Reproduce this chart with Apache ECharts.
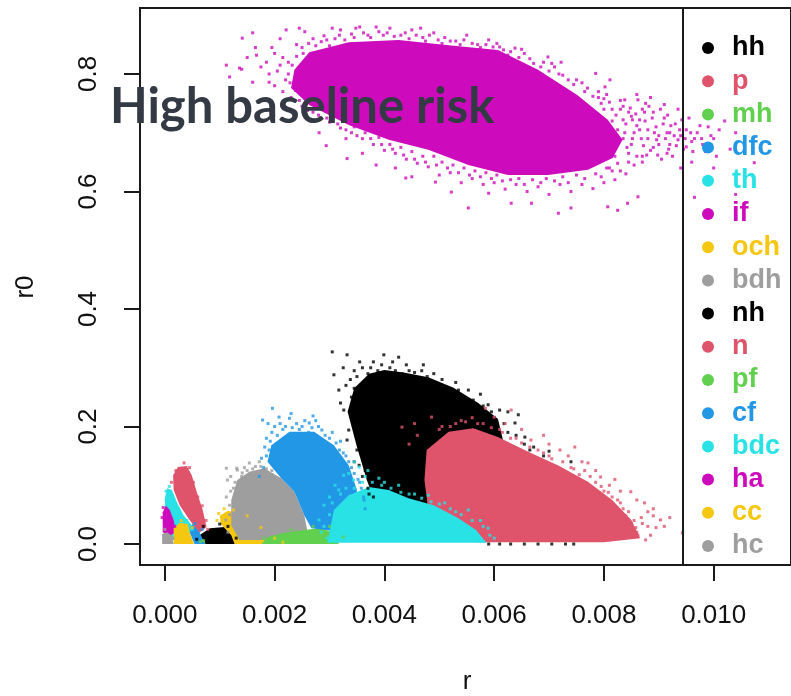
<!DOCTYPE html>
<html>
<head>
<meta charset="utf-8">
<script src="https://cdn.jsdelivr.net/npm/echarts@6/dist/echarts.min.js"></script>
<style>
html,body{margin:0;padding:0;background:#fff}
#chart{width:791px;height:696px}
</style>
</head>
<body>
<div id="chart"></div>
<script>
// groups in plotting order (later groups are drawn on top)
const groupNames = ['hh','p','mh','dfc','th','if','och','bdh','nh','n','pf','cf','bdc','ha','cc','hc'];
const groupColors = ['#000000','#DF536B','#61D04F','#2297E6','#28E2E5','#CD0BBC','#F5C710','#9E9E9E',
                     '#000000','#DF536B','#61D04F','#2297E6','#28E2E5','#CD0BBC','#F5C710','#9E9E9E'];
const xTicks = [0, 0.002, 0.004, 0.006, 0.008, 0.010];
const yTicks = [0, 0.2, 0.4, 0.6, 0.8];

// dense core of each cloud, as an outline of (r, r0) values
const hhCore  = [[0.00060,0.000],[0.00063,0.015],[0.00082,0.027],[0.00109,0.029],[0.00127,0.020],[0.00132,0.000]];
const pCore   = [[0.00015,0.117],[0.00024,0.131],[0.00040,0.133],[0.00049,0.117],[0.00058,0.089],[0.00069,0.058],
                 [0.00076,0.029],[0.00063,0.019],[0.00045,0.041],[0.00027,0.066],[0.00016,0.092]];
const mhCore  = [[0.00062,0.000],[0.00064,0.006],[0.00072,0.007],[0.00074,0.000]];
const dfcCore = [[0.00042,0.027],[0.00051,0.034],[0.00063,0.020],[0.00073,0.000],[0.00054,0.000]];
const thCore  = [[0.00000,0.078],[0.00004,0.095],[0.00013,0.092],[0.00022,0.071],[0.00034,0.049],[0.00049,0.032],
                 [0.00045,0.015],[0.00018,0.007],[0.00000,0.007]];
const ifCore  = [[0.00236,0.807],[0.00263,0.837],[0.00335,0.854],[0.00426,0.858],[0.00517,0.849],[0.00607,0.841],
                 [0.00680,0.807],[0.00752,0.764],[0.00807,0.722],[0.00834,0.688],[0.00816,0.657],[0.00771,0.637],
                 [0.00698,0.628],[0.00625,0.628],[0.00553,0.645],[0.00480,0.671],[0.00408,0.688],[0.00335,0.713],
                 [0.00263,0.747],[0.00230,0.776]];
const ochCore = [[0.00127,0.000],[0.00121,0.015],[0.00102,0.034],[0.00100,0.048],[0.00114,0.056],[0.00140,0.054],
                 [0.00163,0.037],[0.00190,0.012],[0.00208,0.000]];
const bdhCore = [[0.00121,0.075],[0.00132,0.109],[0.00154,0.123],[0.00181,0.129],[0.00212,0.112],[0.00236,0.089],
                 [0.00254,0.049],[0.00263,0.007],[0.00136,0.007],[0.00121,0.032]];
const nhCore  = [[0.00333,0.225],[0.00345,0.265],[0.00372,0.290],[0.00400,0.296],[0.00435,0.292],[0.00480,0.284],
                 [0.00526,0.266],[0.00571,0.240],[0.00607,0.213],[0.00616,0.177],[0.00571,0.126],[0.00499,0.075],
                 [0.00426,0.049],[0.00385,0.066],[0.00368,0.109],[0.00350,0.165]];
const nCore   = [[0.00477,0.160],[0.00517,0.191],[0.00562,0.197],[0.00607,0.182],[0.00662,0.157],[0.00716,0.134],
                 [0.00771,0.106],[0.00815,0.075],[0.00850,0.041],[0.00866,0.010],[0.00800,0.003],[0.00571,0.003],
                 [0.00499,0.007],[0.00480,0.058],[0.00473,0.109]];
const pfCore  = [[0.00176,0.000],[0.00187,0.012],[0.00218,0.019],[0.00254,0.024],[0.00281,0.027],[0.00308,0.020],[0.00317,0.000]];
const cfCore  = [[0.00187,0.140],[0.00194,0.168],[0.00227,0.191],[0.00272,0.191],[0.00308,0.168],[0.00335,0.134],
                 [0.00350,0.092],[0.00344,0.041],[0.00326,0.020],[0.00267,0.027],[0.00254,0.049],[0.00236,0.089],
                 [0.00212,0.112]];
const bdcCore = [[0.00296,0.002],[0.00308,0.058],[0.00335,0.083],[0.00372,0.097],[0.00408,0.092],[0.00444,0.078],
                 [0.00490,0.066],[0.00535,0.044],[0.00567,0.024],[0.00586,0.002]];
const haCore  = [[-0.00004,0.054],[0.00002,0.065],[0.00009,0.058],[0.00016,0.041],[0.00020,0.020],[0.00009,0.014],[-0.00004,0.020]];
const ccCore  = [[0.00016,0.000],[0.00016,0.027],[0.00027,0.036],[0.00042,0.034],[0.00045,0.020],[0.00053,0.000]];
const hcCore  = [[-0.00005,0.000],[-0.00005,0.017],[0.00004,0.020],[0.00013,0.014],[0.00016,0.000]];

// scattered draws around the cores
const hhPoints  = [[0.00070,0.030],[0.00100,0.034],[0.00115,0.030],[0.00130,0.010],[0.00058,0.008]];
const pPoints   = [[0.00012,0.105],[0.00020,0.125],[0.00035,0.138],[0.00045,0.130],[0.00052,0.105],[0.00060,0.080],
                   [0.00068,0.065],[0.00075,0.040],[0.00078,0.025]];
const mhPoints  = [[0.00065,0.004],[0.00070,0.006]];
const dfcPoints = [[0.00055,0.035],[0.00068,0.025]];
const thPoints  = [[0.00002,0.090],[0.00008,0.098],[0.00025,0.060],[0.00040,0.040],[0.00050,0.025]];
const ifPoints  = [
  [0.00112,0.815],[0.00118,0.795],[0.00136,0.810],[0.00141,0.861],[0.00140,0.808],[0.00150,0.828],[0.00160,0.870],
  [0.00160,0.786],[0.00167,0.832],[0.00175,0.812],[0.00165,0.845],[0.00190,0.786],[0.00190,0.800],[0.00200,0.835],
  [0.00210,0.860],[0.00215,0.770],[0.00221,0.875],[0.00225,0.820],[0.00220,0.790],[0.00205,0.805],[0.00230,0.760],
  [0.00240,0.850],[0.00245,0.878],[0.00245,0.755],[0.00255,0.872],[0.00260,0.738],[0.00270,0.860],[0.00280,0.730],
  [0.00281,0.700],[0.00290,0.865],[0.00294,0.678],[0.00300,0.848],[0.00300,0.718],[0.00305,0.878],[0.00320,0.875],
  [0.00320,0.708],[0.00330,0.690],[0.00332,0.656],[0.00340,0.868],[0.00340,0.700],[0.00348,0.878],[0.00355,0.880],
  [0.00360,0.690],[0.00360,0.665],[0.00370,0.866],[0.00380,0.680],[0.00385,0.880],[0.00385,0.645],[0.00390,0.872],
  [0.00400,0.670],[0.00410,0.878],[0.00420,0.665],[0.00420,0.640],[0.00430,0.866],[0.00439,0.623],[0.00440,0.655],
  [0.00450,0.875],[0.00450,0.625],[0.00460,0.648],[0.00466,0.878],[0.00470,0.862],[0.00480,0.642],[0.00490,0.870],
  [0.00493,0.616],[0.00500,0.628],[0.00510,0.862],[0.00520,0.632],[0.00522,0.599],[0.00530,0.856],[0.00540,0.615],
  [0.00550,0.866],[0.00553,0.572],[0.00560,0.622],[0.00570,0.850],[0.00580,0.612],[0.00590,0.858],[0.00590,0.597],
  [0.00600,0.615],[0.00610,0.846],[0.00617,0.841],[0.00620,0.604],[0.00630,0.838],[0.00631,0.580],[0.00638,0.844],
  [0.00640,0.612],[0.00650,0.842],[0.00660,0.600],[0.00665,0.826],[0.00668,0.580],[0.00680,0.608],[0.00690,0.820],
  [0.00698,0.829],[0.00700,0.595],[0.00710,0.812],[0.00717,0.563],[0.00720,0.612],[0.00722,0.820],[0.00725,0.798],
  [0.00740,0.600],[0.00740,0.572],[0.00750,0.790],[0.00760,0.612],[0.00770,0.776],[0.00780,0.605],[0.00785,0.801],
  [0.00790,0.770],[0.00800,0.615],[0.00802,0.778],[0.00807,0.574],[0.00810,0.752],[0.00811,0.790],[0.00820,0.620],
  [0.00825,0.568],[0.00830,0.740],[0.00838,0.756],[0.00840,0.630],[0.00843,0.580],[0.00850,0.728],[0.00855,0.645],
  [0.00860,0.712],[0.00862,0.756],[0.00862,0.591],[0.00870,0.660],[0.00874,0.735],[0.00880,0.705],[0.00890,0.675],
  [0.00900,0.695],[0.00915,0.665],[0.00916,0.730],[0.00920,0.700],[0.00935,0.688],[0.00940,0.640],[0.00950,0.676],
  [0.00960,0.650],[0.00965,0.690],[0.00985,0.668],[0.01005,0.660],[0.01030,0.672],
  [0.00830,0.755],[0.00845,0.735],[0.00840,0.715],[0.00855,0.700],[0.00850,0.680],[0.00860,0.660],[0.00845,0.650],
  [0.00870,0.740],[0.00875,0.720],[0.00880,0.690],[0.00885,0.670],[0.00870,0.650],[0.00890,0.735],[0.00895,0.710],
  [0.00900,0.680],[0.00905,0.655],[0.00910,0.725],[0.00915,0.700],[0.00920,0.680],[0.00925,0.660],[0.00930,0.715],
  [0.00940,0.695],[0.00945,0.672],[0.00950,0.705],[0.00960,0.685],[0.00970,0.700],[0.00980,0.680],[0.00990,0.710],
  [0.01000,0.690],[0.01020,0.720],[0.01040,0.700],[0.00955,0.725],[0.00935,0.740],[0.00910,0.748],[0.00885,0.760],
  [0.00860,0.765],[0.00830,0.635],[0.00810,0.640],[0.00820,0.660],[0.00835,0.690],[0.00825,0.705],[0.00815,0.720],
  [0.00800,0.740],[0.00790,0.760],[0.00805,0.765],[0.01074,0.649],[0.01040,0.595],[0.00965,0.590],[0.01000,0.640],
  [0.00250,0.845],[0.00262,0.852],[0.00275,0.848],[0.00285,0.855],[0.00295,0.858],[0.00310,0.860],[0.00318,0.866],
  [0.00328,0.858],[0.00345,0.862],[0.00362,0.870],[0.00375,0.862],[0.00398,0.866],[0.00405,0.870],[0.00418,0.864],
  [0.00438,0.870],[0.00445,0.860],[0.00458,0.866],[0.00475,0.856],[0.00482,0.866],[0.00498,0.858],[0.00505,0.852],
  [0.00520,0.856],[0.00538,0.850],[0.00545,0.858],[0.00560,0.852],[0.00575,0.845],[0.00585,0.850],[0.00598,0.846],
  [0.00605,0.852],[0.00625,0.832],[0.00645,0.828],[0.00655,0.835],[0.00672,0.818],[0.00685,0.812],[0.00700,0.805],
  [0.00705,0.818],[0.00718,0.800],[0.00735,0.790],[0.00745,0.782],[0.00760,0.785],[0.00765,0.770],[0.00780,0.762],
  [0.00795,0.750],[0.00800,0.758],[0.00815,0.740],[0.00822,0.730],[0.00835,0.722],
  [0.00250,0.745],[0.00270,0.735],[0.00285,0.740],[0.00295,0.725],[0.00310,0.728],[0.00315,0.715],[0.00330,0.705],
  [0.00345,0.710],[0.00350,0.695],[0.00365,0.700],[0.00375,0.690],[0.00390,0.692],[0.00395,0.680],[0.00410,0.680],
  [0.00415,0.672],[0.00430,0.675],[0.00435,0.662],[0.00450,0.668],[0.00455,0.655],[0.00470,0.660],[0.00475,0.650],
  [0.00490,0.660],[0.00495,0.645],[0.00505,0.650],[0.00515,0.640],[0.00525,0.645],[0.00535,0.632],[0.00545,0.640],
  [0.00555,0.628],[0.00565,0.635],[0.00575,0.625],[0.00585,0.632],[0.00595,0.622],[0.00605,0.628],[0.00615,0.618],
  [0.00630,0.620],[0.00645,0.622],[0.00655,0.612],[0.00670,0.620],[0.00685,0.615],[0.00695,0.622],[0.00710,0.618],
  [0.00725,0.625],[0.00735,0.615],[0.00750,0.628],[0.00765,0.622],[0.00785,0.630],[0.00795,0.625],[0.00805,0.640],
  [0.00815,0.635],[0.00825,0.648],
  [0.00835,0.745],[0.00848,0.742],[0.00852,0.722],[0.00858,0.732],[0.00865,0.705],[0.00868,0.690],[0.00872,0.678],
  [0.00878,0.662],[0.00882,0.745],[0.00888,0.725],[0.00892,0.700],[0.00896,0.688],[0.00898,0.662],[0.00903,0.740],
  [0.00908,0.715],[0.00912,0.690],[0.00918,0.672],[0.00922,0.712],[0.00928,0.695],[0.00932,0.678],[0.00938,0.705],
  [0.00942,0.722],[0.00948,0.690],[0.00958,0.700],[0.00962,0.668],[0.00975,0.712],[0.00978,0.690],[0.00995,0.695],
  [0.01010,0.705],[0.00845,0.665],[0.00852,0.690],[0.00838,0.700],[0.00842,0.675],[0.00865,0.722],[0.00876,0.750],
  [0.00225,0.800],[0.00228,0.785],[0.00232,0.815],[0.00238,0.772],[0.00240,0.830],[0.00210,0.815],[0.00215,0.828],
  [0.00200,0.780],[0.00185,0.820],[0.00195,0.845],[0.00248,0.765],[0.00252,0.835]
];
const ochPoints = [[0.00098,0.052],[0.00108,0.060],[0.00125,0.058],[0.00150,0.048],[0.00175,0.028],[0.00200,0.010],
                   [0.00215,0.003],[0.00095,0.040]];
const bdhPoints = [[0.00112,0.080],[0.00131,0.129],[0.00154,0.138],[0.00172,0.140],[0.00141,0.121],[0.00114,0.109],
                   [0.00111,0.041],[0.00112,0.129],[0.00132,0.126],[0.00118,0.066],[0.00125,0.095],[0.00165,0.132],
                   [0.00195,0.125],[0.00120,0.115],[0.00145,0.130],
                   [0.00120,0.090],[0.00128,0.105],[0.00140,0.115],[0.00150,0.125],[0.00160,0.128],[0.00175,0.132],
                   [0.00185,0.128],[0.00195,0.118],[0.00118,0.050],[0.00115,0.020]];
const nhPoints  = [[0.00305,0.327],[0.00332,0.322],[0.00399,0.322],[0.00426,0.318],[0.00380,0.310],[0.00360,0.300],
                   [0.00345,0.295],[0.00410,0.300],[0.00440,0.305],[0.00471,0.305],[0.00455,0.292],[0.00490,0.290],
                   [0.00505,0.280],[0.00530,0.275],[0.00553,0.262],[0.00545,0.250],[0.00575,0.255],[0.00589,0.237],
                   [0.00610,0.228],[0.00625,0.225],[0.00644,0.220],[0.00638,0.206],[0.00656,0.182],[0.00672,0.165],
                   [0.00700,0.158],[0.00740,0.140],[0.00308,0.288],[0.00317,0.262],[0.00326,0.228],[0.00335,0.194],
                   [0.00332,0.177],[0.00345,0.140],[0.00354,0.134],[0.00360,0.115],[0.00370,0.095],[0.00320,0.240],
                   [0.00330,0.270],[0.00340,0.250],
                   [0.00350,0.285],[0.00362,0.275],[0.00370,0.290],[0.00375,0.300],[0.00388,0.295],[0.00395,0.305],
                   [0.00402,0.290],[0.00415,0.310],[0.00420,0.295],[0.00432,0.290],[0.00445,0.295],[0.00450,0.285],
                   [0.00462,0.282],[0.00468,0.295],[0.00478,0.285],[0.00485,0.278],[0.00495,0.272],[0.00512,0.268],
                   [0.00520,0.258],[0.00535,0.262],[0.00548,0.245],[0.00562,0.245],[0.00580,0.235],[0.00595,0.225],
                   [0.00600,0.215],[0.00618,0.205],[0.00625,0.190],[0.00640,0.185],[0.00655,0.170],[0.00665,0.160],
                   [0.00690,0.150],[0.00345,0.265],[0.00340,0.235],[0.00342,0.210],[0.00348,0.185],[0.00350,0.160],
                   [0.00362,0.140],[0.00365,0.125],[0.00372,0.085],[0.00380,0.080],[0.00338,0.280],[0.00325,0.300],
                   [0.00355,0.310],
                   [0.00590,0.000],[0.00610,0.000],[0.00630,0.000],[0.00655,0.000],[0.00680,0.000],[0.00705,0.000],
                   [0.00730,0.000],[0.00745,0.000]];
const nPoints   = [[0.00631,0.228],[0.00584,0.231],[0.00600,0.216],[0.00620,0.205],[0.00650,0.195],[0.00667,0.177],
                   [0.00690,0.185],[0.00700,0.170],[0.00720,0.160],[0.00747,0.165],[0.00735,0.150],[0.00760,0.140],
                   [0.00771,0.138],[0.00785,0.125],[0.00794,0.114],[0.00810,0.100],[0.00820,0.110],[0.00830,0.090],
                   [0.00849,0.089],[0.00860,0.075],[0.00874,0.070],[0.00880,0.055],[0.00890,0.048],[0.00903,0.041],
                   [0.00870,0.035],[0.00860,0.020],[0.00876,0.007],[0.00943,0.019],[0.00895,0.028],[0.00540,0.210],
                   [0.00520,0.200],[0.00560,0.215],[0.00432,0.199],[0.00486,0.216],[0.00460,0.185],[0.00445,0.170],
                   [0.00500,0.195],[0.00455,0.205],[0.00580,0.205],[0.00610,0.195],[0.00640,0.180],[0.00680,0.160],
                   [0.00700,0.150],[0.00740,0.130],[0.00775,0.115],[0.00800,0.090],[0.00830,0.070],[0.00845,0.055],
                   [0.00855,0.040],
                   [0.00505,0.200],[0.00530,0.205],[0.00548,0.208],[0.00570,0.205],[0.00595,0.198],[0.00615,0.190],
                   [0.00630,0.180],[0.00650,0.172],[0.00665,0.165],[0.00690,0.155],[0.00705,0.145],[0.00725,0.140],
                   [0.00745,0.128],[0.00755,0.118],[0.00765,0.125],[0.00785,0.105],[0.00795,0.098],[0.00808,0.088],
                   [0.00815,0.080],[0.00825,0.075],[0.00835,0.060],[0.00840,0.048],[0.00850,0.035],[0.00858,0.028],
                   [0.00862,0.015],[0.00868,0.045],[0.00880,0.030],[0.00885,0.015],[0.00890,0.060],[0.00910,0.030],
                   [0.00920,0.045]];
const pfPoints  = [[0.00180,0.010],[0.00230,0.025],[0.00270,0.030],[0.00300,0.030],[0.00325,0.012]];
const cfPoints  = [[0.00196,0.231],[0.00178,0.211],[0.00208,0.216],[0.00227,0.214],[0.00263,0.206],[0.00286,0.194],
                   [0.00185,0.180],[0.00176,0.146],[0.00312,0.140],[0.00330,0.117],[0.00341,0.088],[0.00363,0.075],
                   [0.00200,0.200],[0.00215,0.195],[0.00240,0.205],[0.00250,0.200],[0.00275,0.210],[0.00300,0.180],
                   [0.00320,0.175],[0.00190,0.160],[0.00180,0.130],[0.00172,0.115],[0.00325,0.155],[0.00340,0.130],
                   [0.00355,0.105],[0.00365,0.060],[0.00205,0.185],[0.00262,0.190],
                   [0.00195,0.190],[0.00210,0.205],[0.00220,0.200],[0.00232,0.198],[0.00245,0.195],[0.00255,0.210],
                   [0.00268,0.198],[0.00280,0.200],[0.00292,0.185],[0.00305,0.190],[0.00312,0.172],[0.00318,0.160],
                   [0.00330,0.150],[0.00335,0.140],[0.00345,0.120],[0.00352,0.110],[0.00358,0.095],[0.00362,0.080],
                   [0.00185,0.150],[0.00182,0.165],[0.00192,0.175],[0.00188,0.205],[0.00230,0.222],[0.00270,0.218]];
const bdcPoints = [[0.00354,0.131],[0.00326,0.117],[0.00344,0.109],[0.00390,0.112],[0.00317,0.092],[0.00290,0.066],
                   [0.00281,0.041],[0.00426,0.100],[0.00480,0.083],[0.00553,0.058],[0.00589,0.027],[0.00300,0.080],
                   [0.00310,0.100],[0.00335,0.120],[0.00365,0.115],[0.00400,0.105],[0.00455,0.085],[0.00510,0.070],
                   [0.00530,0.055],[0.00575,0.040],[0.00285,0.020],[0.00600,0.010],[0.00370,0.125],[0.00345,0.140],
                   [0.00300,0.050],[0.00305,0.070],[0.00320,0.085],[0.00330,0.095],[0.00345,0.095],[0.00360,0.105],
                   [0.00378,0.105],[0.00395,0.100],[0.00412,0.095],[0.00430,0.088],[0.00445,0.085],[0.00468,0.078],
                   [0.00485,0.072],[0.00500,0.068],[0.00520,0.060],[0.00540,0.050],[0.00560,0.040],[0.00580,0.030],
                   [0.00592,0.015],[0.00290,0.030],[0.00295,0.010]];
const haPoints  = [[-0.00003,0.062],[0.00018,0.030],[-0.00005,0.045]];
const ccPoints  = [[0.00030,0.040],[0.00050,0.028]];
const hcPoints  = [[0.00000,0.025],[0.00015,0.010]];

const groupCores  = [hhCore,pCore,mhCore,dfcCore,thCore,ifCore,ochCore,bdhCore,nhCore,nCore,pfCore,cfCore,bdcCore,haCore,ccCore,hcCore];
const groupPoints = [hhPoints,pPoints,mhPoints,dfcPoints,thPoints,ifPoints,ochPoints,bdhPoints,nhPoints,nPoints,pfPoints,cfPoints,bdcPoints,haPoints,ccPoints,hcPoints];

const FONT = '"Liberation Sans", Arial, sans-serif';

function coreSeries(name, color, outline) {
  return {
    type: 'custom', name: name, silent: true, data: outline,
    renderItem: function (params, api) {
      if (params.dataIndex !== 0) return null;
      const pts = outline.map(function (v) { return api.coord(v); });
      return { type: 'polygon', shape: { points: pts }, style: { fill: color } };
    }
  };
}
function pointSeries(name, color, pts) {
  return {
    type: 'scatter', name: name, silent: true, data: pts,
    symbol: 'rect', symbolSize: 3, itemStyle: { color: color }
  };
}

const series = [];
groupNames.forEach(function (name, i) {
  series.push(coreSeries(name, groupColors[i], groupCores[i]));
  series.push(pointSeries(name, groupColors[i], groupPoints[i]));
});

const chart = echarts.init(document.getElementById('chart'), null, { renderer: 'canvas' });
chart.setOption({
  animation: false,
  grid: { left: 140, top: 8, width: 654, height: 557, show: true, borderColor: '#1a1a1a', borderWidth: 2 },
  xAxis: {
    type: 'value', min: -0.000453, max: 0.011409,
    splitLine: { show: false },
    axisLine: { show: true, onZero: false, lineStyle: { color: '#1a1a1a', width: 2 } },
    axisTick: { show: true, customValues: xTicks, length: 16, lineStyle: { color: '#1a1a1a', width: 2 } },
    axisLabel: { customValues: xTicks, formatter: function (v) { return v.toFixed(3); },
                 fontSize: 26, color: '#111', fontFamily: FONT, margin: 38 }
  },
  yAxis: {
    type: 'value', min: -0.0357, max: 0.9123,
    splitLine: { show: false },
    axisLine: { show: true, onZero: false, lineStyle: { color: '#1a1a1a', width: 2 } },
    axisTick: { show: true, customValues: yTicks, length: 16, lineStyle: { color: '#1a1a1a', width: 2 } },
    axisLabel: { customValues: yTicks, formatter: function (v) { return v.toFixed(1); }, rotate: 90,
                 fontSize: 26, color: '#111', fontFamily: FONT, margin: 38 }
  },
  legend: {
    orient: 'vertical', left: 697, top: 29.5, itemWidth: 38, itemHeight: 12, itemGap: 6.2,
    icon: 'circle', selectedMode: false,
    textStyle: { fontSize: 27, fontWeight: 'bold', fontFamily: FONT },
    data: groupNames.map(function (n, i) {
      return { name: n, itemStyle: { color: groupColors[i] }, textStyle: { color: groupColors[i] } };
    })
  },
  graphic: [
    { type: 'line', silent: true, z: 50, shape: { x1: 683, y1: 8, x2: 683, y2: 565 },
      style: { stroke: '#1a1a1a', lineWidth: 2 } },
    { type: 'text', silent: true, z: 60, x: 467, y: 682,
      style: { text: 'r', font: '26px ' + FONT, fill: '#111', textAlign: 'center', textVerticalAlign: 'middle' } },
    { type: 'text', silent: true, z: 60, x: 26, y: 287, rotation: Math.PI / 2,
      style: { text: 'r0', font: '26px ' + FONT, fill: '#111', textAlign: 'center', textVerticalAlign: 'middle' } },
    { type: 'text', silent: true, z: 100, x: 110, y: 107,
      style: { text: 'High baseline risk', font: 'bold 49px Lato, "Open Sans", sans-serif', fill: '#343a44',
               textAlign: 'left', textVerticalAlign: 'middle' } }
  ],
  series: series
});
</script>
</body>
</html>
